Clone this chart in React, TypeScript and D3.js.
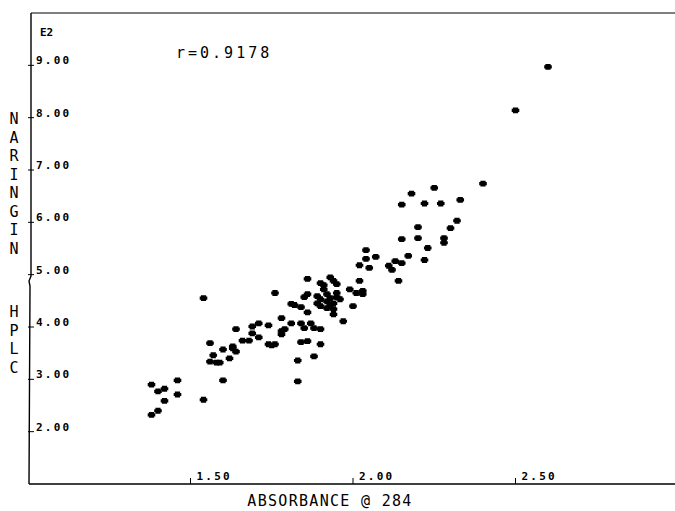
import * as d3 from 'd3';
import { useEffect, useRef } from 'react';

// absorbance @ 284 (x) vs HPLC naringin (y, x100)
const absorbance = [
  1.38, 1.38, 1.40, 1.40, 1.42, 1.42, 1.46, 1.46, 1.54, 1.54,
  1.56, 1.57, 1.56, 1.58, 1.59, 1.60, 1.60, 1.62, 1.63, 1.64,
  1.63, 1.64, 1.66, 1.68, 1.69, 1.71, 1.74, 1.69, 1.71, 1.74,
  1.75, 1.76, 1.76, 1.78, 1.81, 1.78, 1.79, 1.78, 1.83, 1.83,
  1.84, 1.85, 1.87, 1.88, 1.90, 1.84, 1.86, 1.90, 1.88, 1.81,
  1.82, 1.84, 1.86, 1.86, 1.86, 1.90, 1.91, 1.93, 1.94, 1.95,
  1.89, 1.90, 1.92, 1.93, 1.94, 1.90, 1.92, 1.89, 1.93, 1.95,
  1.95, 1.94, 1.97, 1.99, 2.01, 2.03, 2.03, 2.00, 2.02, 2.04,
  2.07, 2.04, 2.02, 2.05, 2.11, 2.12, 2.13, 2.15, 2.17, 2.14,
  2.22, 2.23, 2.15, 2.20, 2.20, 2.28, 2.28, 2.30, 2.32, 2.15,
  2.18, 2.22, 2.27, 2.25, 2.33, 2.40, 2.50, 2.60, 1.85, 1.92,
  1.94, 1.91, 1.96,
];
const naringin = [
  2.90, 2.32, 2.77, 2.40, 2.59, 2.82, 2.98, 2.71, 2.61, 4.55,
  3.69, 3.46, 3.34, 3.32, 3.32, 3.57, 2.98, 3.40, 3.59, 3.96,
  3.63, 3.53, 3.74, 3.74, 4.01, 4.07, 4.03, 3.88, 3.80, 3.67,
  3.65, 3.67, 4.65, 4.17, 4.07, 3.92, 3.96, 3.86, 3.36, 2.96,
  4.07, 3.98, 4.07, 3.98, 3.96, 3.71, 3.73, 3.67, 3.44, 4.44,
  4.42, 4.38, 4.28, 4.63, 4.92, 4.84, 4.80, 4.95, 4.88, 4.82,
  4.59, 4.53, 4.49, 4.55, 4.45, 4.40, 4.36, 4.45, 4.42, 4.57,
  4.65, 4.24, 4.11, 4.72, 4.65, 4.69, 4.63, 4.40, 4.88, 5.47,
  5.34, 5.30, 5.18, 5.13, 5.17, 5.09, 5.26, 5.22, 5.36, 4.88,
  5.28, 5.51, 5.68, 5.70, 5.91, 5.70, 5.61, 5.89, 6.03, 6.34,
  6.55, 6.36, 6.36, 6.66, 6.43, 6.74, 8.14, 8.97, 4.57, 4.63,
  4.34, 4.72, 4.53,
];
const xTicks = [1.5, 2.0, 2.5];
const yTicks = [2, 3, 4, 5, 6, 7, 8, 9];
const yTitleTop = 'NARINGIN';
const yTitleBottom = 'HPLC';
const xTitle = 'ABSORBANCE @ 284';
const rLabel = 'r=0.9178';
const scaleLabel = 'E2';

const App = () => {
  const ref = useRef<SVGSVGElement>(null);

  useEffect(() => {
    const svg = d3.select(ref.current);
    svg.selectAll('*').remove();

    const x = d3.scaleLinear().domain([1, 3]).range([28, 678]);
    const y = d3.scaleLinear().domain([1, 10]).range([484, 13]);
    const mono = 'DejaVu Sans Mono, monospace';

    // frame
    svg.append('path')
      .attr('d', 'M31,13 L31,276 L29,281 L30,286 L29,484')
      .attr('fill', 'none').attr('stroke', '#000').attr('stroke-width', 1.4);
    svg.append('line')
      .attr('x1', 29).attr('x2', 675).attr('y1', 484).attr('y2', 484)
      .attr('stroke', '#000').attr('stroke-width', 1.6);
    svg.append('line')
      .attr('x1', 31).attr('x2', 675).attr('y1', 13).attr('y2', 13)
      .attr('stroke', '#000').attr('stroke-width', 1.2);

    // y ticks + labels
    const yt = svg.append('g');
    yt.selectAll('line').data(yTicks).enter().append('line')
      .attr('x1', 28).attr('x2', 34)
      .attr('y1', (d) => y(d)).attr('y2', (d) => y(d))
      .attr('stroke', '#000').attr('stroke-width', 1);
    yt.selectAll('text').data(yTicks).enter().append('text')
      .attr('x', 36).attr('y', (d) => y(d) - 1)
      .style('font-family', mono).style('font-size', '11px').style('font-weight', 'bold')
      .style('letter-spacing', '2.2px')
      .text((d) => d3.format('.2f')(d));

    // x ticks + labels
    const xt = svg.append('g');
    xt.selectAll('line').data(xTicks).enter().append('line')
      .attr('x1', (d) => x(d)).attr('x2', (d) => x(d))
      .attr('y1', 478).attr('y2', 484)
      .attr('stroke', '#000').attr('stroke-width', 1);
    xt.selectAll('text').data(xTicks).enter().append('text')
      .attr('x', (d) => x(d) + 6).attr('y', 480)
      .style('font-family', mono).style('font-size', '11px').style('font-weight', 'bold')
      .style('letter-spacing', '2.2px')
      .text((d) => d3.format('.2f')(d));

    svg.append('text')
      .attr('x', 40).attr('y', 36)
      .style('font-family', mono).style('font-size', '11px').style('font-weight', 'bold')
      .text(scaleLabel);

    svg.append('text')
      .attr('x', 176).attr('y', 58)
      .style('font-family', mono).style('font-size', '15px')
      .style('letter-spacing', '3px')
      .text(rLabel);

    // axis titles
    svg.append('text')
      .attr('x', 330).attr('y', 506).attr('text-anchor', 'middle')
      .style('font-family', mono).style('font-size', '15px')
      .style('letter-spacing', '1.3px')
      .text(xTitle);

    const yTitle = svg.append('g')
      .style('font-family', mono).style('font-size', '15px')
      .attr('text-anchor', 'middle');
    yTitle.selectAll('.top').data(yTitleTop.split('')).enter().append('text')
      .attr('x', 14).attr('y', (_, i) => 124 + i * 18.5)
      .text((d) => d);
    yTitle.selectAll('.bot').data(yTitleBottom.split('')).enter().append('text')
      .attr('x', 14).attr('y', (_, i) => 317 + i * 18.5)
      .text((d) => d);

    // points
    const marker = 'M-3.8,-1.6h7.6v3.2h-7.6z M-2.6,-2.9h5.2v5.8h-5.2z';
    svg.append('g').selectAll('path').data(absorbance).enter().append('path')
      .attr('transform', (d, i) => `translate(${x(d)},${y(naringin[i])})`)
      .attr('d', marker)
      .attr('fill', '#000');
  }, []);

  return (
    <svg ref={ref} width={675} height={511}
      style={{ position: 'absolute', left: 0, top: 0, background: '#fff' }} />
  );
};

export default App;
